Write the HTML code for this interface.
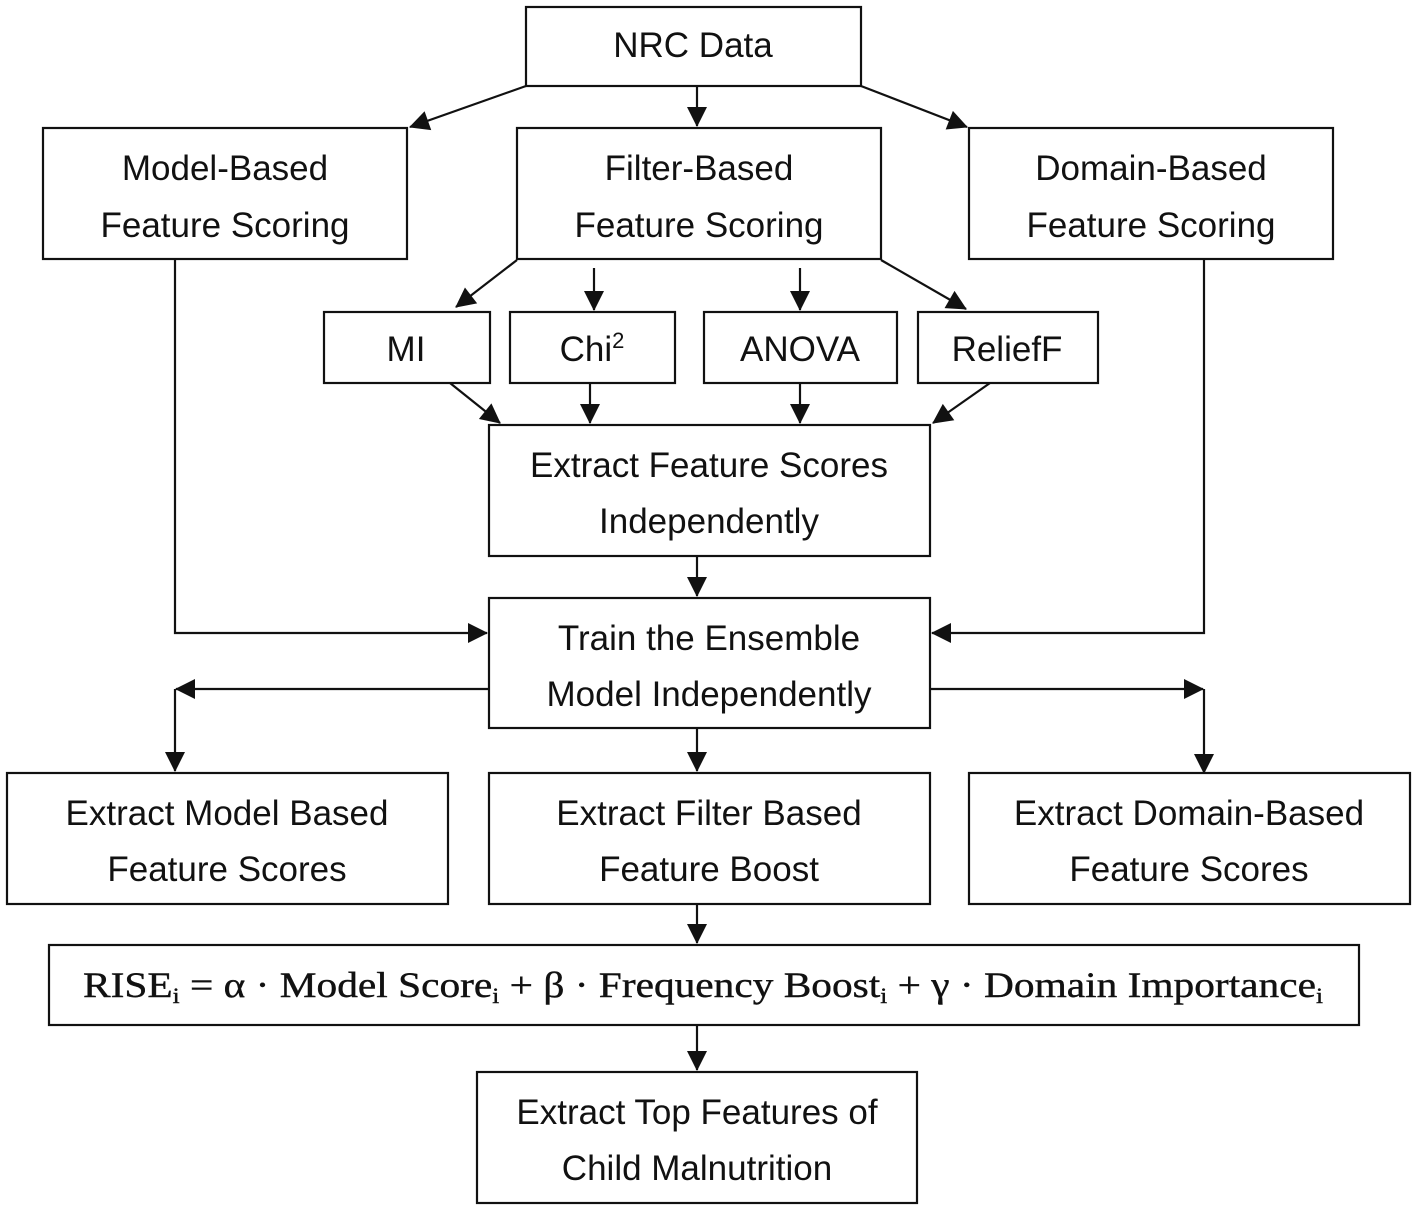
<!DOCTYPE html>
<html><head><meta charset="utf-8"><style>
html,body{margin:0;padding:0;background:#fff}
svg{display:block}
.b{fill:#fff;stroke:#111;stroke-width:2.2}
.l{stroke:#111;stroke-width:2.2;fill:none}
text{font-family:"Liberation Sans",sans-serif;font-size:35px;fill:#111;text-anchor:middle}
.f{font-family:"Liberation Serif",serif;font-size:36px;text-anchor:start;stroke:#111;stroke-width:0.4}
</style></head><body>
<svg width="1418" height="1211" viewBox="0 0 1418 1211" xmlns="http://www.w3.org/2000/svg">
<defs><marker id="a" markerWidth="10" markerHeight="10" refX="9" refY="5" orient="auto" markerUnits="userSpaceOnUse" viewBox="0 0 10 10" style="overflow:visible">
<path d="M0,0 L10,5 L0,10 z" fill="#111" transform="scale(2)translate(-5,-2.5)"/></marker></defs>
<g class="l" marker-end="url(#a)">
<line x1="526" y1="86" x2="410" y2="127"/>
<line x1="697" y1="86" x2="697" y2="126"/>
<line x1="861" y1="86" x2="967" y2="127"/>
<line x1="517" y1="260" x2="456" y2="307"/>
<line x1="594" y1="268" x2="594" y2="310"/>
<line x1="800" y1="268" x2="800" y2="310"/>
<line x1="881" y1="260" x2="966" y2="309"/>
<line x1="450" y1="383" x2="500" y2="423"/>
<line x1="590" y1="383" x2="590" y2="423"/>
<line x1="800" y1="383" x2="800" y2="423"/>
<line x1="990" y1="383" x2="933" y2="423"/>
<line x1="697" y1="556" x2="697" y2="596"/>
<polyline points="175,259 175,633 487,633"/>
<polyline points="1204,259 1204,633 932,633"/>
<line x1="489" y1="689" x2="176" y2="689"/>
<line x1="175" y1="689" x2="175" y2="771"/>
<line x1="930" y1="689" x2="1203" y2="689"/>
<line x1="1204" y1="689" x2="1204" y2="773"/>
<line x1="697" y1="728" x2="697" y2="771"/>
<line x1="697" y1="904" x2="697" y2="943"/>
<line x1="697" y1="1025" x2="697" y2="1070"/>
</g>
<rect class="b" x="526" y="7" width="335" height="79"/>
<rect class="b" x="43" y="128" width="364" height="131"/>
<rect class="b" x="517" y="128" width="364" height="131"/>
<rect class="b" x="969" y="128" width="364" height="131"/>
<rect class="b" x="324" y="312" width="166" height="71"/>
<rect class="b" x="510" y="312" width="165" height="71"/>
<rect class="b" x="704" y="312" width="193" height="71"/>
<rect class="b" x="918" y="312" width="180" height="71"/>
<rect class="b" x="489" y="425" width="441" height="131"/>
<rect class="b" x="489" y="598" width="441" height="130"/>
<rect class="b" x="7" y="773" width="441" height="131"/>
<rect class="b" x="489" y="773" width="441" height="131"/>
<rect class="b" x="969" y="773" width="441" height="131"/>
<rect class="b" x="49" y="945" width="1310" height="80"/>
<rect class="b" x="477" y="1072" width="440" height="131"/>
<text x="693" y="57">NRC Data</text>
<text x="225" y="180">Model-Based</text><text x="225" y="237">Feature Scoring</text>
<text x="699" y="180">Filter-Based</text><text x="699" y="237">Feature Scoring</text>
<text x="1151" y="180">Domain-Based</text><text x="1151" y="237">Feature Scoring</text>
<text x="406" y="361">MI</text>
<text x="592" y="361">Chi<tspan font-size="22" dy="-13">2</tspan></text>
<text x="800" y="361">ANOVA</text>
<text x="1007" y="361">ReliefF</text>
<text x="709" y="477">Extract Feature Scores</text><text x="709" y="533">Independently</text>
<text x="709" y="650">Train the Ensemble</text><text x="709" y="706">Model Independently</text>
<text x="227" y="825">Extract Model Based</text><text x="227" y="881">Feature Scores</text>
<text x="709" y="825">Extract Filter Based</text><text x="709" y="881">Feature Boost</text>
<text x="1189" y="825">Extract Domain-Based</text><text x="1189" y="881">Feature Scores</text>
<text class="f" x="83" y="997" textLength="1240" lengthAdjust="spacingAndGlyphs">RISE<tspan font-size="22" dy="6">i</tspan><tspan dy="-6"> = α · Model Score</tspan><tspan font-size="22" dy="6">i</tspan><tspan dy="-6"> + β · Frequency Boost</tspan><tspan font-size="22" dy="6">i</tspan><tspan dy="-6"> + γ · Domain Importance</tspan><tspan font-size="22" dy="6">i</tspan></text>
<text x="697" y="1124">Extract Top Features of</text><text x="697" y="1180">Child Malnutrition</text>
</svg>
</body></html>
